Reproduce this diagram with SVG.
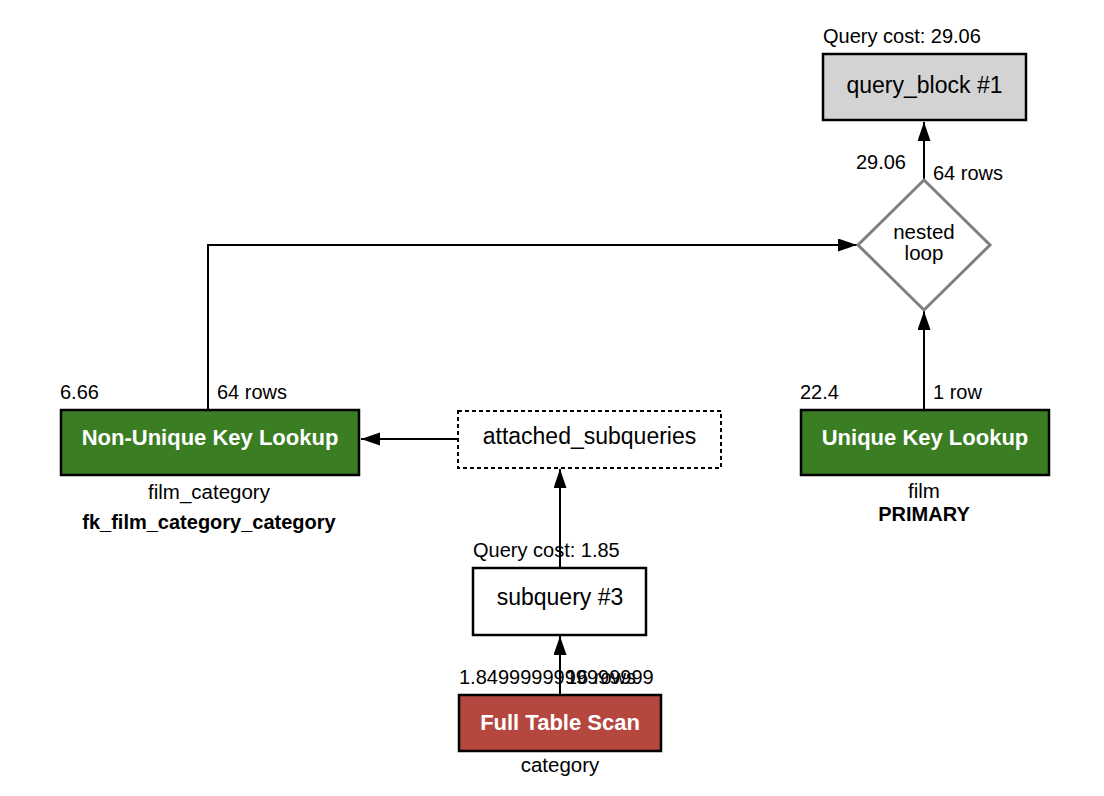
<svg xmlns="http://www.w3.org/2000/svg" width="1104" height="796" viewBox="0 0 1104 796">
<style>
text{font-family:"Liberation Sans",Arial,Helvetica,sans-serif;fill:#000}
.lbl{font-size:20px}
.sub{font-size:20.5px}
.bsub{font-size:20px;font-weight:bold}
.ttl{font-size:23px}
.wt{font-size:22px;font-weight:bold;fill:#fff}
.box{stroke:#000;stroke-width:2.5}
.edge{stroke:#000;stroke-width:2;fill:none}
</style>
<defs>
<marker id="ah" markerWidth="20" markerHeight="14" refX="19" refY="6.5" orient="auto" markerUnits="userSpaceOnUse">
<path d="M0,0 L19,6.5 L0,13 Z" fill="#000"/>
</marker>
</defs>
<rect width="1104" height="796" fill="#fff"/>
<g id="connectors">
<line class="edge" x1="924" y1="180" x2="924" y2="122" marker-end="url(#ah)"/>
<polyline class="edge" points="208,410 208,245 857,245" marker-end="url(#ah)"/>
<line class="edge" x1="924" y1="410" x2="924" y2="311" marker-end="url(#ah)"/>
<line class="edge" x1="458" y1="439" x2="361" y2="439" marker-end="url(#ah)"/>
<line class="edge" x1="560" y1="568" x2="560" y2="469" marker-end="url(#ah)"/>
<line class="edge" x1="560" y1="695" x2="560" y2="636" marker-end="url(#ah)"/>
</g>
<g id="query_block">
<text class="lbl" x="823" y="43">Query cost: 29.06</text>
<rect class="box" x="823" y="54" width="203" height="66" fill="#d3d3d3"/>
<text class="ttl" x="924.5" y="93" text-anchor="middle">query_block #1</text>
</g>
<g id="nested_loop">
<text class="lbl" x="906" y="169" text-anchor="end">29.06</text>
<text class="lbl" x="933" y="180">64 rows</text>
<polygon points="924,180 990,245 924,310 858,245" fill="#fff" stroke="#808080" stroke-width="3"/>
<text class="sub" x="924" y="239" text-anchor="middle">nested</text>
<text class="sub" x="924" y="260" text-anchor="middle">loop</text>
</g>
<g id="film_category">
<text class="lbl" x="60" y="399">6.66</text>
<text class="lbl" x="217" y="399">64 rows</text>
<rect class="box" x="61" y="410" width="298" height="65" fill="#3a7d23"/>
<text class="wt" x="210" y="445" text-anchor="middle">Non-Unique Key Lookup</text>
<text class="sub" x="209" y="499" text-anchor="middle">film_category</text>
<text class="bsub" x="209" y="529" text-anchor="middle">fk_film_category_category</text>
</g>
<g id="attached_subqueries">
<rect x="458" y="411" width="263" height="57" fill="#fff" stroke="#000" stroke-width="2" stroke-dasharray="4,3"/>
<text class="ttl" x="589.5" y="444" text-anchor="middle">attached_subqueries</text>
</g>
<g id="film">
<text class="lbl" x="800" y="399">22.4</text>
<text class="lbl" x="933" y="399">1 row</text>
<rect class="box" x="801" y="410" width="248" height="65" fill="#3a7d23"/>
<text class="wt" x="925" y="445" text-anchor="middle">Unique Key Lookup</text>
<text class="sub" x="924" y="498" text-anchor="middle">film</text>
<text class="bsub" x="924" y="521" text-anchor="middle">PRIMARY</text>
</g>
<g id="subquery_3">
<text class="lbl" x="473" y="557">Query cost: 1.85</text>
<rect class="box" x="473" y="568" width="173" height="67" fill="#fff"/>
<text class="ttl" x="560" y="605" text-anchor="middle">subquery #3</text>
</g>
<g id="category">
<text class="lbl" x="459" y="684">1.8499999999999999</text>
<text class="lbl" x="566" y="684">16 rows</text>
<rect class="box" x="459" y="695" width="202" height="56" fill="#b5473f"/>
<text class="wt" x="560" y="730" text-anchor="middle">Full Table Scan</text>
<text class="sub" x="560" y="772" text-anchor="middle">category</text>
</g>
</svg>
